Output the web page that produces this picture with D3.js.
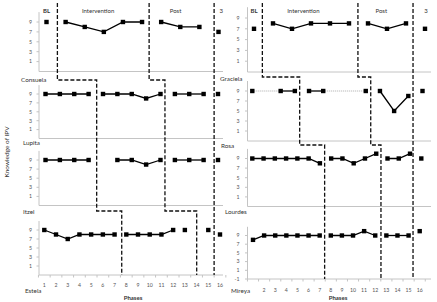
<!DOCTYPE html>
<html>
<head>
<meta charset="utf-8">
<title>Knowledge of IPV</title>
<style>
  body { margin: 0; background: #fff; }
  text { font-family: Lato, 'Open Sans', sans-serif; }
</style>
</head>
<body>
<script src="https://d3js.org/d3.v7.min.js"></script>
<script>
const width = 437, height = 302;

// participants, top to bottom
const leftNames = ['Consuela', 'Lupita', 'Itzel', 'Estela'];
const rightNames = ['Graciela', 'Rosa', 'Lourdes', 'Mireya'];

// scores per phase (BL, intervention, post, 3 months); null = no session
const consuela = [[9], [9, 8, 7, 9, 9], [9, 8, 8], [7]];
const lupita = [[9, 9, 9, 9], [9, 9, 9, 8, 9], [9, 9, 9], [9]];
const itzel = [[9, 9, 9, 9], [null, 9, 9, 8, 9], [9, 9, 9], [9]];
const estela = [[9, 8, 7, 8, 8, 8, 8], [8, 8, 8, 8, 9], [9], [null, 9], [8]];

const graciela = [[7], [8, 7, 8, 8, 8], [8, 7, 8], [7]];
const rosa = [[9, null, 9, 9], [9, 9, null, null, 9], [9, 5, 8], [9]];
const lourdes = [[9, 9, 9, 9, 9, 9, 8], [9, 9, 8, 9, 10], [9, 9, 10], [9]];
const mireya = [[8, 9, 9, 9, 9, 9, 9], [9, 9, 9, 10, 9], [9, 9, 9], [10]];

// phase change lines, in sessions, for each panel
const leftPhaseLines = [[1.57, 6.37, 9.77], [4.56, 9.31, 12.72], [4.56, 9.31, 12.72], [7.61, 14.01, 15.49]];
const rightPhaseLines = [[1.44, 6.47, 9.37], [4.34, 9.35, 12.33], [7.42, 12.42, 15.41], [7.45, 12.52, 15.61]];

const phaseLabels = ['BL', 'Intervention', 'Post', '3'];
const leftPhaseLabelAt = [1, 3.7, 7.75, 10.15];
const rightPhaseLabelAt = [1, 3.6, 7.7, 10.05];

const yTicks = [1, 3, 5, 7, 9];
const yTicksLast = [-1, 1, 3, 5, 7, 9];
const leftSessionLabels = [1, 2, 3, 4, 5, 6, 7, 8, 9, 10, 11, 12, 13, 14, 15, 16];
const rightSessionLabels = [2, 3, 4, 5, 6, 7, 8, 9, 10, 11, 12, 13, 14, 15, 16];

const columns = [
  {
    names: leftNames, data: [consuela, lupita, itzel, estela], phaseLines: leftPhaseLines,
    phaseLabelAt: leftPhaseLabelAt, sessionLabels: leftSessionLabels,
    axisX: 39, axisEnd: 223, labelX: 32, tickLabelY: 287, phasesX: 133,
    panels: [
      { base: 71.5, k: 4.95, x0: 46.5, x1: 218.5, step: 80, nameX: 21, nameY: 81.5, ticks: yTicks },
      { base: 138.5, k: 4.45, x0: 45.5, x1: 218, step: null, nameX: 23, nameY: 145, ticks: yTicks },
      { base: 205.5, k: 4.55, x0: 45.5, x1: 218, step: 211, nameX: 23, nameY: 214, ticks: yTicks },
      { base: 275, k: 4.5, x0: 44.3, x1: 220, step: null, nameX: 25, nameY: 293, ticks: yTicks }
    ]
  },
  {
    names: rightNames, data: [graciela, rosa, lourdes, mireya], phaseLines: rightPhaseLines,
    phaseLabelAt: rightPhaseLabelAt, sessionLabels: rightSessionLabels,
    axisX: 247.5, axisEnd: 431, labelX: 239.5, tickLabelY: 291.5, phasesX: 338,
    panels: [
      { base: 72, k: 5.4, x0: 254, x1: 425, step: 77, nameX: 220, nameY: 81, ticks: yTicks },
      { base: 141, k: 5, x0: 252.3, x1: 422.5, step: 145, nameX: 221, nameY: 148, ticks: yTicks },
      { base: 206.5, k: 4.8, x0: 252.3, x1: 421.3, step: null, nameX: 225, nameY: 214, ticks: yTicks },
      { base: 279, k: 4.35, x0: 253, x1: 419.7, step: null, nameX: 231, nameY: 293, ticks: yTicksLast }
    ]
  }
];

const svg = d3.select('body')
  .append('svg')
  .attr('width', width)
  .attr('height', height);

const axisColor = '#c4c4c4';

function drawColumn(col) {
  const g = svg.append('g');

  const xs = col.panels.map((p, i) => {
    const n = d3.sum(col.data[i], ph => ph.length);
    return d3.scaleLinear().domain([1, n]).range([p.x0, p.x1]);
  });
  const ys = col.panels.map(p =>
    d3.scaleLinear().domain([-1, 11]).range([p.base, p.base - 12 * p.k]));

  col.panels.forEach((p, i) => {
    const x = xs[i], y = ys[i];
    const pg = g.append('g');

    // axis lines
    pg.append('line')
      .attr('x1', col.axisX).attr('x2', col.axisEnd)
      .attr('y1', p.base).attr('y2', p.base)
      .attr('stroke', axisColor);
    pg.append('line')
      .attr('x1', col.axisX).attr('x2', col.axisX)
      .attr('y1', y(11)).attr('y2', p.base)
      .attr('stroke', axisColor);

    pg.selectAll('.ytick')
      .data(p.ticks)
      .join('line')
      .attr('x1', col.axisX - 2.5).attr('x2', col.axisX)
      .attr('y1', d => y(d)).attr('y2', d => y(d))
      .attr('stroke', axisColor);
    pg.selectAll('.ylab')
      .data(p.ticks)
      .join('text')
      .attr('x', col.labelX)
      .attr('y', d => y(d) + 1.8)
      .attr('text-anchor', 'end')
      .attr('font-size', 5.2)
      .attr('fill', '#555')
      .text(d => d);

    // name
    pg.append('text')
      .attr('x', p.nameX).attr('y', p.nameY)
      .attr('font-size', 6.3)
      .attr('fill', '#333')
      .text(col.names[i]);

    // data by phase
    let s = 1;
    col.data[i].forEach(phase => {
      const pts = phase.map((v, j) => ({ s: s + j, v }));
      s += phase.length;

      const known = pts.filter(d => d.v != null);
      // dotted link across missing sessions
      d3.pairs(known).filter(([a, b]) => b.s - a.s > 1).forEach(([a, b]) => {
        pg.append('line')
          .attr('x1', x(a.s)).attr('x2', x(b.s))
          .attr('y1', y(a.v)).attr('y2', y(b.v))
          .attr('stroke', '#aaa')
          .attr('stroke-width', 1)
          .attr('stroke-dasharray', '1,1');
      });

      pg.append('path')
        .datum(pts)
        .attr('d', d3.line().defined(d => d.v != null).x(d => x(d.s)).y(d => y(d.v)))
        .attr('fill', 'none')
        .attr('stroke', '#000')
        .attr('stroke-width', 1.3);

      pg.selectAll(null)
        .data(known)
        .join('rect')
        .attr('x', d => x(d.s) - 2.2)
        .attr('y', d => y(d.v) - 2.2)
        .attr('width', 4.4)
        .attr('height', 4.4)
        .attr('fill', '#000');
    });
  });

  // phase labels over the top panel
  g.selectAll('.phase')
    .data(phaseLabels)
    .join('text')
    .attr('x', (d, j) => xs[0](col.phaseLabelAt[j]))
    .attr('y', 12.5)
    .attr('text-anchor', 'middle')
    .attr('font-size', 6)
    .attr('fill', '#333')
    .attr('font-weight', (d, j) => j === 0 ? 'bold' : null)
    .text(d => d);

  // session axis at the bottom panel
  const last = col.panels.length - 1;
  const xb = xs[last], pb = col.panels[last];
  const n = d3.sum(col.data[last], ph => ph.length);
  g.selectAll('.xtick')
    .data(d3.range(0.5, n + 1, 1))
    .join('line')
    .attr('x1', d => xb(d)).attr('x2', d => xb(d))
    .attr('y1', pb.base).attr('y2', pb.base + 2.5)
    .attr('stroke', axisColor);
  g.selectAll('.xlab')
    .data(col.sessionLabels)
    .join('text')
    .attr('x', d => xb(d))
    .attr('y', col.tickLabelY)
    .attr('text-anchor', 'middle')
    .attr('font-size', 5.2)
    .attr('fill', '#555')
    .text(d => d);
  g.append('text')
    .attr('x', col.phasesX).attr('y', 299.5)
    .attr('text-anchor', 'middle')
    .attr('font-size', 6)
    .attr('font-weight', 'bold')
    .attr('fill', '#333')
    .text('Phases');

  // stepped phase change lines
  [0, 1, 2].forEach(j => {
    const pts = [];
    let px = xs[0](col.phaseLines[0][j]);
    pts.push([px, 3]);
    col.panels.forEach((p, i) => {
      if (i === 0) return;
      const nx = xs[i](col.phaseLines[i][j]);
      if (Math.abs(nx - px) > 2.5) {
        const sy = col.panels[i - 1].step;
        pts.push([px, sy], [nx, sy]);
        px = nx;
      }
    });
    pts.push([px, pb.base]);
    g.append('path')
      .attr('d', d3.line()(pts))
      .attr('fill', 'none')
      .attr('stroke', '#111')
      .attr('stroke-width', 1.3)
      .attr('stroke-dasharray', '4,2');
  });
}

columns.forEach(drawColumn);

svg.append('text')
  .attr('transform', 'translate(9,152) rotate(-90)')
  .attr('text-anchor', 'middle')
  .attr('font-size', 6.5)
  .attr('fill', '#333')
  .text('Knowledge of IPV');
</script>
</body>
</html>
